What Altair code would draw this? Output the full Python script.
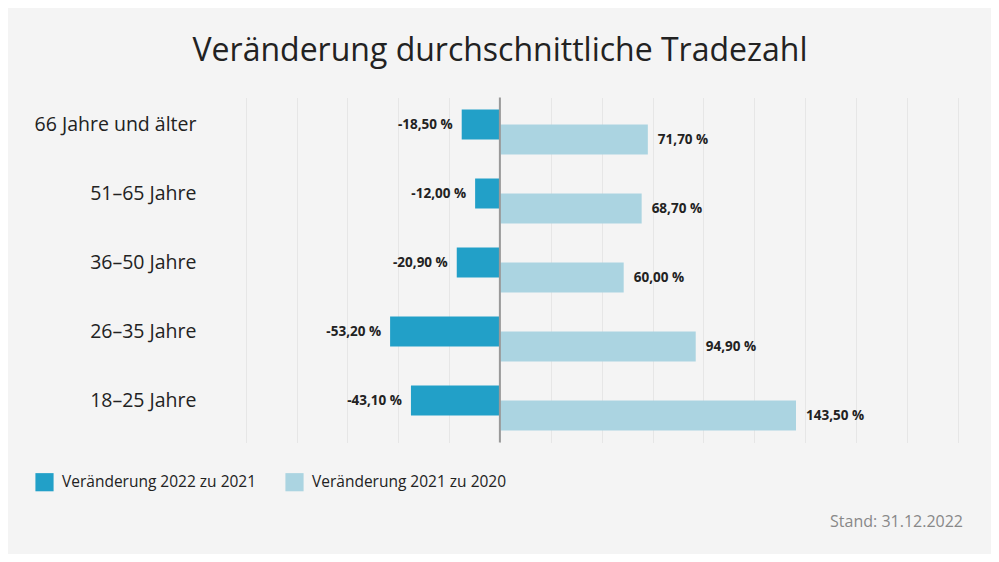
import altair as alt
import pandas as pd

ages = ["66 Jahre und älter", "51–65 Jahre", "36–50 Jahre", "26–35 Jahre", "18–25 Jahre"]
series_names = ["Veränderung 2022 zu 2021", "Veränderung 2021 zu 2020"]
change_22_21 = [-18.5, -12.0, -20.9, -53.2, -43.1]
change_21_20 = [71.7, 68.7, 60.0, 94.9, 143.5]
colors = ["#22a0c8", "#abd4e1"]
title_text = "Veränderung durchschnittliche Tradezahl"
stand_text = "Stand: 31.12.2022"


def fmt(v):
    return f"{v:.2f}".replace(".", ",") + " %"


rows = []
for a, v in zip(ages, change_22_21):
    rows.append({"age": a, "series": series_names[0], "value": v, "label": fmt(v)})
for a, v in zip(ages, change_21_20):
    rows.append({"age": a, "series": series_names[1], "value": v, "label": fmt(v)})
df = pd.DataFrame(rows)

FONT = "Open Sans"

x_enc = alt.X("value:Q", scale=alt.Scale(domain=[-124, 222], nice=False, zero=False),
              axis=alt.Axis(values=[-123.2 + 24.65 * i for i in range(15)], labels=False, ticks=False,
                            domain=False, title=None, grid=True, gridColor="#e6e6e6", gridWidth=1))
y_enc = alt.Y("age:N", sort=ages, scale=alt.Scale(paddingInner=0, paddingOuter=0),
              axis=alt.Axis(title=None, ticks=False, domain=False, grid=False, labelFont=FONT,
                            labelFontSize=19.5, labelColor="#222222", labelPadding=48,
                            labelOffset=-7))
color_enc = alt.Color("series:N", scale=alt.Scale(domain=series_names, range=colors),
                      legend=alt.Legend(title=None, orient="none", direction="horizontal",
                                        legendX=-209, legendY=375, symbolType="square",
                                        symbolSize=330, symbolStrokeWidth=0, symbolOpacity=1,
                                        labelFont=FONT, labelFontSize=15.5, labelColor="#222222",
                                        labelLimit=400, columnPadding=28, labelOffset=8))

base = alt.Chart(df)

dark = base.transform_filter(alt.datum.series == series_names[0]).mark_bar(
    height=30, yOffset=-7.5).encode(x=x_enc, y=y_enc, color=color_enc)
light = base.transform_filter(alt.datum.series == series_names[1]).mark_bar(
    height=30, yOffset=7.5).encode(x=x_enc, y=y_enc, color=color_enc)

dark_txt = base.transform_filter(alt.datum.series == series_names[0]).mark_text(
    align="right", baseline="middle", dx=-9, yOffset=-7.5, font=FONT, fontWeight="bold",
    fontSize=13.5, color="#222222").encode(x="value:Q", y=alt.Y("age:N", sort=ages), text="label:N")
light_txt = base.transform_filter(alt.datum.series == series_names[1]).mark_text(
    align="left", baseline="middle", dx=10, yOffset=7.5, font=FONT, fontWeight="bold",
    fontSize=13.5, color="#222222").encode(x="value:Q", y=alt.Y("age:N", sort=ages), text="label:N")

zero = alt.Chart(pd.DataFrame({"z": [0]})).mark_rule(color="#999999", strokeWidth=2).encode(x="z:Q")

stand = alt.Chart(pd.DataFrame({"t": [stand_text]})).mark_text(
    align="right", baseline="middle", font=FONT, fontSize=16, color="#888888").encode(
    x=alt.value(719), y=alt.value(424), text="t:N")

chart = alt.layer(dark, light, dark_txt, light_txt, zero, stand).properties(
    width=714, height=345,
    title=alt.Title(title_text, anchor="middle", dx=-101, offset=29, font=FONT, fontSize=32,
                    fontWeight="normal", color="#222222"),
    autosize=alt.AutoSizeParams(type="none"),
    padding={"left": 236, "top": 89.5, "right": 33, "bottom": 111.5},
    background="#f4f4f4",
).configure_view(stroke=None)

chart.save("out.html", embed_options={"renderer": "svg", "actions": False})
